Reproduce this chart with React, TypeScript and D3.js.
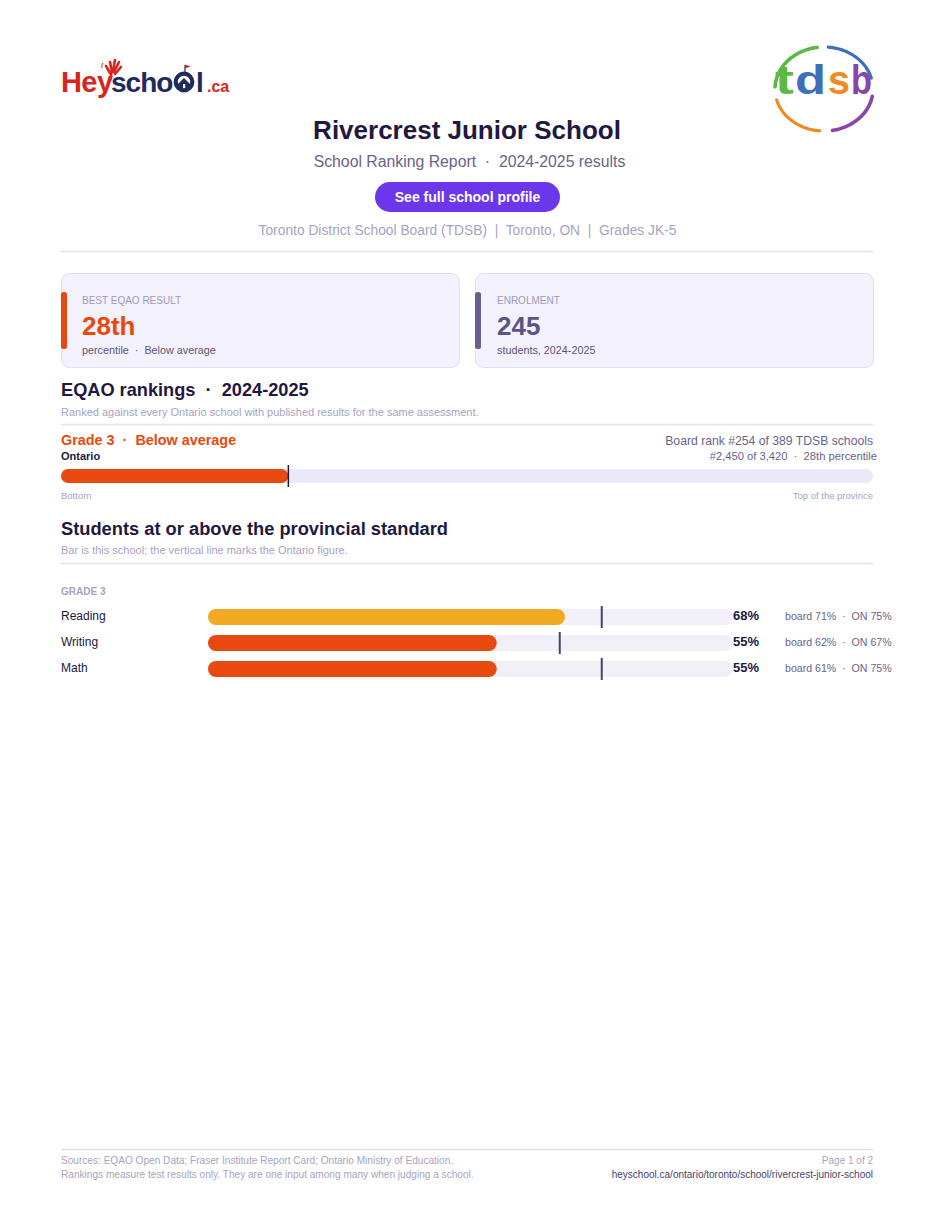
import React from "react";
import * as d3 from "d3";

// ---------- data ----------
const schoolName = "Rivercrest Junior School";
const reportYear = "2024-2025";
const boardName = "Toronto District School Board (TDSB)";
const city = "Toronto, ON";
const grades = "Grades JK-5";

const bestPercentile = 28;
const enrolment = 245;

const rankGrades = ["Grade 3"];
const rankPercentiles = [28];
const provinceRanks = [2450];
const provinceTotals = [3420];
const boardRanks = [254];
const boardTotals = [389];
const rankStatus = ["Below average"];

const subjects = ["Reading", "Writing", "Math"];
const schoolPct = [68, 55, 55];
const boardPct = [71, 62, 61];
const ontarioPct = [75, 67, 75];

const footerLeft = [
  "Sources: EQAO Open Data; Fraser Institute Report Card; Ontario Ministry of Education.",
  "Rankings measure test results only. They are one input among many when judging a school.",
];
const footerRight = ["Page 1 of 2", "heyschool.ca/ontario/toronto/school/rivercrest-junior-school"];

// ---------- styles ----------
const FONT = "'Liberation Sans', Arial, Helvetica, sans-serif";
const DARK = "#22183f";
const MUTED = "#6a6389";
const LIGHT = "#a7a3c1";
const ORANGE = "#e8490f";
const YELLOW = "#f2aa22";
const RULE = "#e4e0f2";
const fmt = d3.format(",");
const DOT = " \u00a0·\u00a0 ";
const BAR = " \u00a0|\u00a0 ";

function ordinal(n: number) {
  const s = ["th", "st", "nd", "rd"];
  const v = n % 100;
  return n + (s[(v - 20) % 10] || s[v] || s[0]);
}

function ellipseArc(cx: number, cy: number, rx: number, ry: number, a0: number, a1: number) {
  const pts = d3.range(a0, a1 + 0.001, (a1 - a0) / 30).map((a) => {
    const r = (a * Math.PI) / 180;
    return [cx + rx * Math.cos(r), cy + ry * Math.sin(r)] as [number, number];
  });
  return d3.line()(pts) || "";
}

export default function App() {
  const W = 935;
  const H = 1210;
  const left = 61;
  const right = 873;

  const xRank = d3.scaleLinear().domain([0, 100]).range([left, right]);

  const xStd = d3.scaleLinear().domain([0, 100]).range([208, 733]);
  const yStd = d3.scaleBand<string>().domain(subjects).range([609, 677]).paddingInner(10 / 26).paddingOuter(0);
  const bh = yStd.bandwidth();

  const cx = 824, cy = 89;
  const NAVY = "#1e2b5b";
  const RED = "#d8251d";

  return (
    <svg
      width={W}
      height={H}
      viewBox={`0 0 ${W} ${H}`}
      style={{ position: "absolute", left: 0, top: 0, display: "block", background: "#fff" }}
      fontFamily={FONT}
    >
      <rect width={W} height={H} fill="#fff" />

      {/* HeySchool logo */}
      <g>
        <text x={61} y={92} fontSize={29} fontWeight="bold" fill={RED} letterSpacing={-0.8}>
          He
        </text>
        <text x={97} y={92} fontSize={29} fontWeight="bold" fill={RED}>
          y
        </text>
        <g stroke={RED} strokeWidth={2.6} strokeLinecap="round" fill="none">
          <path d="M110 80 L112 70" />
          <path d="M112 72 L110 62" />
          <path d="M113 71 L115 60" />
          <path d="M114 72 L119 62" />
          <path d="M115 74 L121 67" />
          <path d="M110 73 L106 66" />
        </g>
        <path d="M103 63 q-2 2 -1 5" stroke={RED} strokeWidth={1} fill="none" />
        <text x={111} y={92} fontSize={28} fontWeight="bold" fill={NAVY} letterSpacing={-1}>
          scho
        </text>
        <g>
          <circle cx={184} cy={82} r={8.3} fill="none" stroke={NAVY} strokeWidth={4.2} />
          <path d="M178 84 L184 78 L190 84 L190 88 L178 88 Z" fill={NAVY} />
          <rect x={183} y={84} width={2.2} height={4} fill="#fff" />
          <line x1={185} y1={72} x2={185} y2={65} stroke={NAVY} strokeWidth={1.2} />
          <path d="M185 64.5 L190.5 66.5 L185 68.5 Z" fill={RED} />
        </g>
        <text x={196} y={92} fontSize={28} fontWeight="bold" fill={NAVY}>
          l
        </text>
        <text x={207} y={92} fontSize={16} fontWeight="bold" fill={RED}>
          .ca
        </text>
      </g>

      {/* TDSB logo */}
      <g>
        <path d={ellipseArc(cx, cy, 49, 42, 183, 262)} stroke="#5cb946" strokeWidth={3.6} fill="none" strokeLinecap="round" />
        <path d={ellipseArc(cx, cy, 49, 42, 275, 345)} stroke="#3f6fb8" strokeWidth={3.2} fill="none" strokeLinecap="round" />
        <path d={ellipseArc(cx, cy, 49, 42, 10, 80)} stroke="#8b44a8" strokeWidth={3.6} fill="none" strokeLinecap="round" />
        <path d={ellipseArc(cx, cy, 49, 42, 95, 165)} stroke="#f08a24" strokeWidth={3.2} fill="none" strokeLinecap="round" />
        <text x={775} y={94} fontSize={41} fontWeight="bold" fill="#5cb946" textLength={19} lengthAdjust="spacingAndGlyphs">t</text>
        <text x={795} y={94} fontSize={41} fontWeight="bold" fill="#3f6fb8" textLength={31} lengthAdjust="spacingAndGlyphs">d</text>
        <text x={828} y={94} fontSize={41} fontWeight="bold" fill="#f08a24" textLength={22} lengthAdjust="spacingAndGlyphs">s</text>
        <text x={851} y={94} fontSize={41} fontWeight="bold" fill="#8b44a8" textLength={21} lengthAdjust="spacingAndGlyphs">b</text>
      </g>

      {/* Title */}
      <text x={467} y={139} textAnchor="middle" fontSize={26} fontWeight="bold" fill={DARK}>
        {schoolName}
      </text>
      <text x={469.5} y={167} textAnchor="middle" fontSize={15.8} fill={MUTED}>
        {`School Ranking Report${DOT}${reportYear} results`}
      </text>
      <rect x={375} y={182} width={185} height={30} rx={15} fill="#6c37ea" />
      <text x={467.5} y={202} textAnchor="middle" fontSize={14} fontWeight="bold" fill="#fff">
        See full school profile
      </text>
      <text x={467.5} y={235} textAnchor="middle" fontSize={13.8} fill={LIGHT}>
        {`${boardName}${BAR}${city}${BAR}${grades}`}
      </text>
      <line x1={left} x2={right} y1={251.5} y2={251.5} stroke={RULE} strokeWidth={1.5} />

      {/* Cards */}
      <rect x={61.5} y={273.5} width={398} height={94} rx={8} fill="#f3f1fc" stroke="#e2ddf5" />
      <rect x={61} y={292} width={6} height={57} rx={2.5} fill={ORANGE} />
      <text x={82} y={304} fontSize={10} fill="#9e99b8">BEST EQAO RESULT</text>
      <text x={82} y={335} fontSize={26} fontWeight="bold" fill={ORANGE}>{ordinal(bestPercentile)}</text>
      <text x={82} y={354} fontSize={10.8} fill="#5c5578">{`percentile${DOT}${rankStatus[0]}`}</text>

      <rect x={475.5} y={273.5} width={398} height={94} rx={8} fill="#f3f1fc" stroke="#e2ddf5" />
      <rect x={475} y={292} width={6} height={57} rx={2.5} fill="#6b5e8f" />
      <text x={497} y={304} fontSize={10} fill="#9e99b8">ENROLMENT</text>
      <text x={497} y={335} fontSize={26} fontWeight="bold" fill="#5e5483">{enrolment}</text>
      <text x={497} y={354} fontSize={10.8} fill="#5c5578">{`students, ${reportYear}`}</text>

      {/* EQAO rankings */}
      <text x={left} y={396} fontSize={18.2} fontWeight="bold" fill={DARK}>
        {`EQAO rankings${DOT}${reportYear}`}
      </text>
      <text x={left} y={416} fontSize={11} fill={LIGHT}>
        Ranked against every Ontario school with published results for the same assessment.
      </text>
      <line x1={left} x2={right} y1={424.5} y2={424.5} stroke={RULE} strokeWidth={1.5} />

      {rankGrades.map((g, i) => (
        <g key={g}>
          <text x={left} y={445} fontSize={14.4} fontWeight="bold" fill={ORANGE}>
            {`${g}${DOT}${rankStatus[i]}`}
          </text>
          <text x={left} y={460} fontSize={11} fontWeight="bold" fill={DARK}>Ontario</text>
          <text x={right} y={445} textAnchor="end" fontSize={12.2} fill={MUTED}>
            {`Board rank #${boardRanks[i]} of ${boardTotals[i]} TDSB schools`}
          </text>
          <text x={877} y={460} textAnchor="end" fontSize={11.2} fill={MUTED}>
            {`#${fmt(provinceRanks[i])} of ${fmt(provinceTotals[i])}${DOT}${ordinal(rankPercentiles[i])} percentile`}
          </text>
          <rect x={xRank(0)} y={469} width={xRank(100) - xRank(0)} height={14} rx={7} fill="#ebe8f7" />
          <rect x={xRank(0)} y={469} width={xRank(rankPercentiles[i]) - xRank(0)} height={14} rx={7} fill={ORANGE} />
          <line x1={xRank(rankPercentiles[i])} x2={xRank(rankPercentiles[i])} y1={465} y2={487} stroke="#231a3f" strokeWidth={1.5} />
          <text x={left} y={499} fontSize={9.5} fill={LIGHT}>Bottom</text>
          <text x={right} y={499} textAnchor="end" fontSize={9.5} fill={LIGHT}>Top of the province</text>
        </g>
      ))}

      {/* Standards */}
      <text x={left} y={535} fontSize={18.3} fontWeight="bold" fill={DARK}>
        Students at or above the provincial standard
      </text>
      <text x={left} y={554} fontSize={11} fill={LIGHT}>
        Bar is this school; the vertical line marks the Ontario figure.
      </text>
      <line x1={left} x2={right} y1={563.5} y2={563.5} stroke={RULE} strokeWidth={1.5} />
      <text x={left} y={595} fontSize={10} fontWeight="bold" fill={LIGHT}>GRADE 3</text>

      {subjects.map((s, i) => {
        const y = yStd(s) as number;
        const color = ontarioPct[i] - schoolPct[i] <= 8 ? YELLOW : ORANGE;
        return (
          <g key={s}>
            <text x={left} y={y + 11} fontSize={12} fill={DARK}>{s}</text>
            <rect x={xStd(0)} y={y} width={xStd(100) - xStd(0)} height={bh} rx={bh / 2} fill="#f1eff8" />
            <rect x={xStd(0)} y={y} width={xStd(schoolPct[i]) - xStd(0)} height={bh} rx={bh / 2} fill={color} />
            <line x1={xStd(ontarioPct[i])} x2={xStd(ontarioPct[i])} y1={y - 3} y2={y + bh + 3} stroke="#4a4068" strokeWidth={2} />
            <text x={733} y={y + 11} fontSize={13} fontWeight="bold" fill={DARK}>{`${schoolPct[i]}%`}</text>
            <text x={785} y={y + 11} fontSize={10.6} fill={MUTED}>
              {`board ${boardPct[i]}%${DOT}ON ${ontarioPct[i]}%`}
            </text>
          </g>
        );
      })}

      {/* Footer */}
      <line x1={left} x2={right} y1={1149.5} y2={1149.5} stroke={RULE} strokeWidth={1.5} />
      {footerLeft.map((t, i) => (
        <text key={t} x={left} y={1164 + i * 14} fontSize={10.1} fill={LIGHT}>{t}</text>
      ))}
      <text x={right} y={1164} textAnchor="end" fontSize={10} fill={LIGHT}>{footerRight[0]}</text>
      <text x={right} y={1178} textAnchor="end" fontSize={10} fill="#4a4068">{footerRight[1]}</text>
    </svg>
  );
}
